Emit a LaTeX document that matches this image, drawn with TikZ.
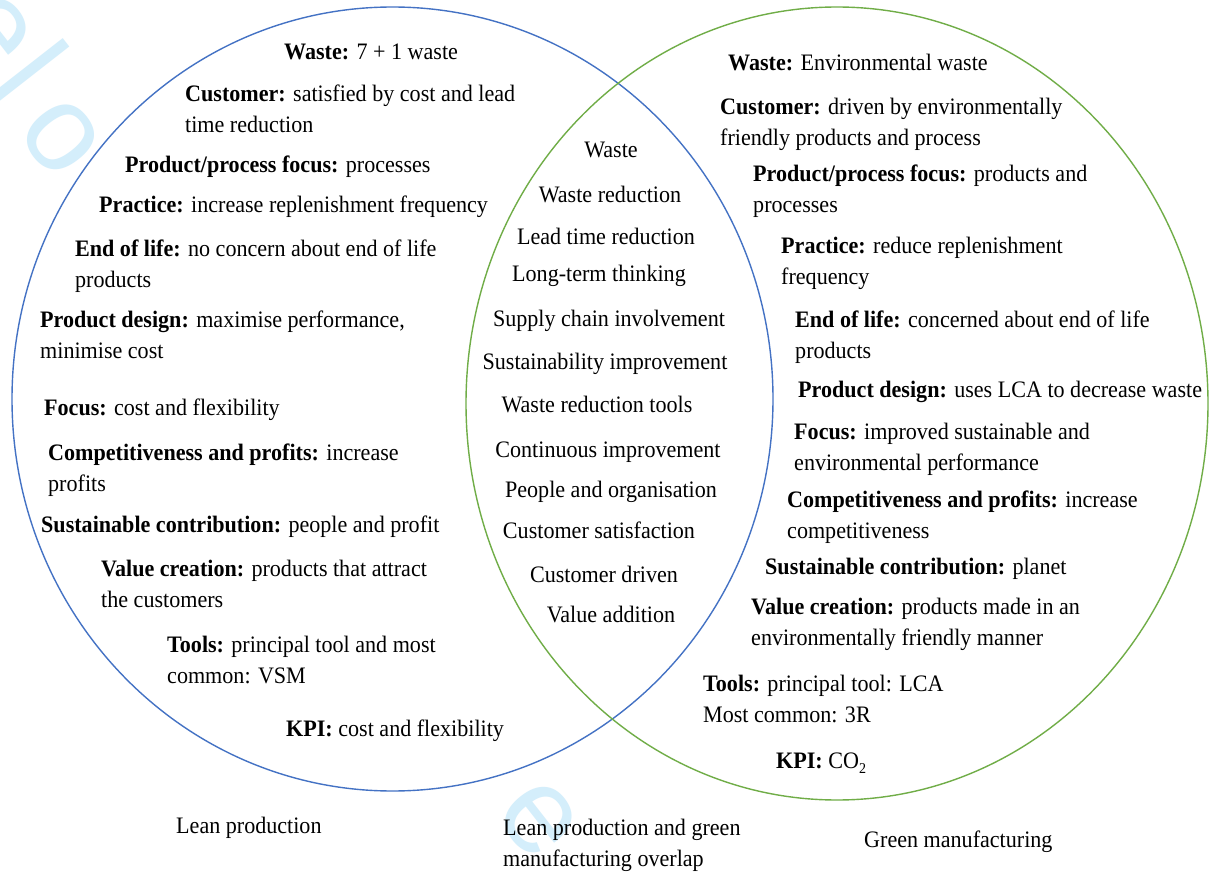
\documentclass[tikz,border=0pt]{standalone}
\usepackage{fontspec}
\setmainfont[FakeStretch=0.936]{Liberation Serif}
\newfontfamily\wmfont{Liberation Sans}
\definecolor{leanblue}{RGB}{68,114,196}
\definecolor{greenline}{RGB}{112,173,71}
\definecolor{wmcyan}{RGB}{212,238,251}
% two stacked lines, baseline on the first one
\newcommand\twoline[2]{\vtop{\hbox{#1}\hbox{#2}}}
\newcommand\kw[1]{\textbf{#1}}

\begin{document}
\begin{tikzpicture}[x=1pt,y=-1pt,
  txt/.style={anchor=base west,inner sep=0pt,font=\fontsize{23.6}{31}\selectfont},
  ctxt/.style={anchor=base,inner sep=0pt,font=\fontsize{23.6}{31}\selectfont},
  wm/.style={anchor=base west,inner sep=0pt,rotate=-52,text=wmcyan,font=\wmfont\fontsize{122}{122}\selectfont},
  setline/.style={line width=1.4pt}]

\useasboundingbox[fill=white] (0,0) rectangle (1210,874);

% faint background lettering
\node[wm] (wme) at (-54,24) {e};
\node[wm] (wml) at (-12,86) {l};
\node[wm] (wmo) at (14,130) {o};
\node[wm] (wma) at (492,812) {e};

% the two sets
\draw[setline,leanblue] (392.5,399) ellipse [x radius=380.5pt, y radius=392pt];
\draw[setline,greenline] (837,403.5) ellipse [x radius=371pt, y radius=396.5pt];

% lean production
\node[txt] (l1)  at (284,60)  {\kw{Waste:} 7 + 1 waste};
\node[txt] (l2)  at (185,102) {\twoline{\kw{Customer:} satisfied by cost and lead}{time reduction}};
\node[txt] (l3)  at (125,173) {\kw{Product/process focus:} processes};
\node[txt] (l4)  at (99,213)  {\kw{Practice:} increase replenishment frequency};
\node[txt] (l5)  at (75,257)  {\twoline{\kw{End of life:} no concern about end of life}{products}};
\node[txt] (l6)  at (40,328)  {\twoline{\kw{Product design:} maximise performance,}{minimise cost}};
\node[txt] (l7)  at (44,415)  {\kw{Focus:} cost and flexibility};
\node[txt] (l8)  at (48,460)  {\twoline{\kw{Competitiveness and profits:} increase}{profits}};
\node[txt] (l9)  at (41,532)  {\kw{Sustainable contribution:} people and profit};
\node[txt] (l10) at (101,576) {\twoline{\kw{Value creation:} products that attract}{the customers}};
\node[txt] (l11) at (167,652) {\twoline{\kw{Tools:} principal tool and most}{common: VSM}};
\node[txt] (l12) at (286,736) {\kw{KPI:} cost and flexibility};

% overlap
\node[ctxt] (c1)  at (611,158) {Waste};
\node[ctxt] (c2)  at (610,203) {Waste reduction};
\node[ctxt] (c3)  at (606,245) {Lead time reduction};
\node[ctxt] (c4)  at (599,282) {Long-term thinking};
\node[ctxt] (c5)  at (609,327) {Supply chain involvement};
\node[ctxt] (c6)  at (605,370) {Sustainability improvement};
\node[ctxt] (c7)  at (597,412) {Waste reduction tools};
\node[ctxt] (c8)  at (608,457) {Continuous improvement};
\node[ctxt] (c9)  at (611,497) {People and organisation};
\node[ctxt] (c10) at (599,538) {Customer satisfaction};
\node[ctxt] (c11) at (604,582) {Customer driven};
\node[ctxt] (c12) at (611,622) {Value addition};

% green manufacturing
\node[txt] (g1)  at (728,71)  {\kw{Waste:} Environmental waste};
\node[txt] (g2)  at (720,115) {\twoline{\kw{Customer:} driven by environmentally}{friendly products and process}};
\node[txt] (g3)  at (753,182) {\twoline{\kw{Product/process focus:} products and}{processes}};
\node[txt] (g4)  at (781,254) {\twoline{\kw{Practice:} reduce replenishment}{frequency}};
\node[txt] (g5)  at (795,328) {\twoline{\kw{End of life:} concerned about end of life}{products}};
\node[txt] (g6)  at (798,397) {\kw{Product design:} uses LCA to decrease waste};
\node[txt] (g7)  at (794,439) {\twoline{\kw{Focus:} improved sustainable and}{environmental performance}};
\node[txt] (g8)  at (787,507) {\twoline{\kw{Competitiveness and profits:} increase}{competitiveness}};
\node[txt] (g9)  at (765,574) {\kw{Sustainable contribution:} planet};
\node[txt] (g10) at (751,614) {\twoline{\kw{Value creation:} products made in an}{environmentally friendly manner}};
\node[txt] (g11) at (703,691) {\twoline{\kw{Tools:} principal tool: LCA}{Most common: 3R}};
\node[txt] (g12) at (776,768) {\kw{KPI:} CO\raisebox{-0.22em}{\fontsize{15}{15}\selectfont 2}};

% set labels
\node[txt] (lean)  at (176,833) {Lean production};
\node[txt] (both)  at (503,835) {\twoline{Lean production and green}{manufacturing overlap}};
\node[txt] (green) at (864,847) {Green manufacturing};
\end{tikzpicture}
\end{document}
